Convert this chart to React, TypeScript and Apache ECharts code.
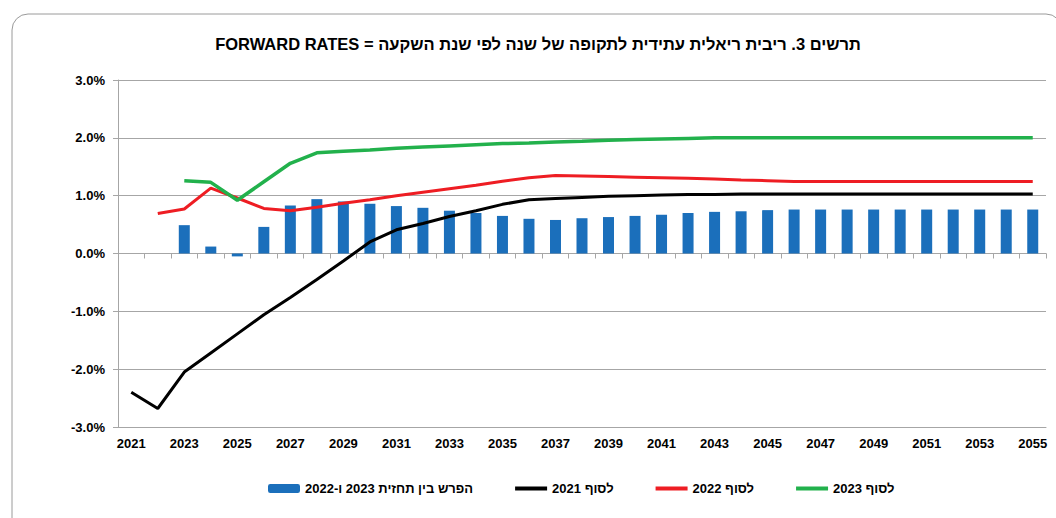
import React, { useEffect, useRef } from "react";
import * as echarts from "echarts";

const years: string[] = [];
for (let y = 2021; y <= 2055; y++) years.push(String(y));

const TITLE = "\u202AFORWARD RATES = תרשים 3. ריבית ריאלית עתידית לתקופה של שנה לפי שנת השקעה\u202C";
const NAME_DIFF = "הפרש בין תחזית 2023 ו-2022";
const NAME_2021 = "לסוף 2021";
const NAME_2022 = "לסוף 2022";
const NAME_2023 = "לסוף 2023";

const diff = [
  null, null, 0.49, 0.12, -0.05, 0.46, 0.83, 0.94, 0.9, 0.86, 0.82, 0.79, 0.74, 0.7, 0.65, 0.6, 0.58,
  0.61, 0.63, 0.65, 0.67, 0.7, 0.72, 0.73, 0.75, 0.76, 0.76, 0.76, 0.76, 0.76, 0.76, 0.76, 0.76, 0.76, 0.76,
];
const end2021 = [
  -2.4, -2.68, -2.05, -1.72, -1.39, -1.06, -0.76, -0.45, -0.13, 0.2, 0.41, 0.52, 0.64, 0.74, 0.85, 0.93, 0.95,
  0.97, 0.99, 1.0, 1.01, 1.02, 1.02, 1.03, 1.03, 1.03, 1.03, 1.03, 1.03, 1.03, 1.03, 1.03, 1.03, 1.03, 1.03,
];
const end2022 = [
  null, 0.69, 0.77, 1.13, 0.96, 0.78, 0.74, 0.8, 0.87, 0.93, 1.0, 1.06, 1.12, 1.18, 1.25, 1.31, 1.35,
  1.34, 1.33, 1.32, 1.31, 1.3, 1.29, 1.27, 1.26, 1.245, 1.245, 1.245, 1.245, 1.245, 1.245, 1.245, 1.245, 1.245, 1.245,
];
const end2023 = [
  null, null, 1.26, 1.23, 0.92, 1.24, 1.56, 1.74, 1.77, 1.79, 1.82, 1.84, 1.86, 1.88, 1.9, 1.91, 1.93,
  1.94, 1.96, 1.97, 1.98, 1.99, 2.0, 2.0, 2.0, 2.0, 2.0, 2.0, 2.0, 2.0, 2.0, 2.0, 2.0, 2.0, 2.0,
];

const FONT = "'Liberation Sans', Arial, sans-serif";
const GRAY = "#a6a6a6";
const BLUE = "#1b6fbb";
const BLACK = "#000000";
const RED = "#ee1d23";
const GREEN = "#22b14c";

const hiddenSymbol = { color: "rgba(0,0,0,0)", borderWidth: 0, borderColor: "rgba(0,0,0,0)" };

export default function App() {
  const ref = useRef<HTMLDivElement>(null);
  useEffect(() => {
    if (!ref.current) return;
    const chart = echarts.init(ref.current, null, { renderer: "svg" });
    chart.setOption({
      animation: false,
      backgroundColor: "#ffffff",
      textStyle: { fontFamily: FONT },
      graphic: [
        {
          type: "rect",
          shape: { x: 12, y: 14, width: 1050, height: 530, r: 16 },
          style: { fill: "none", stroke: "#9a9a9a", lineWidth: 1 },
          silent: true,
        },
        {
          type: "text",
          x: 538,
          y: 44,
          style: {
            text: TITLE,
            font: `bold 16.5px ${FONT}`,
            fill: "#000",
            textAlign: "center",
            textVerticalAlign: "middle",
          },
        },
      ],
      grid: { left: 118, right: 10, top: 80, bottom: 91, containLabel: false },
      legend: {
        left: 263,
        top: 477,
        itemWidth: 32,
        itemHeight: 9,
        itemGap: 40,
        textStyle: { fontFamily: FONT, fontWeight: "bold", fontSize: 13, color: "#000" },
        data: [
          { name: NAME_DIFF },
          { name: NAME_2021, itemStyle: hiddenSymbol, lineStyle: { color: BLACK, width: 4 } },
          { name: NAME_2022, itemStyle: hiddenSymbol, lineStyle: { color: RED, width: 4 } },
          { name: NAME_2023, itemStyle: hiddenSymbol, lineStyle: { color: GREEN, width: 4 } },
        ],
      },
      xAxis: [
        {
          type: "category",
          data: years,
          boundaryGap: true,
          axisLine: { show: true, onZero: false, lineStyle: { color: GRAY } },
          axisTick: { show: false },
          axisLabel: {
            interval: 1,
            fontFamily: FONT,
            fontWeight: "bold",
            fontSize: 13,
            color: "#000",
            margin: 10,
          },
        },
        {
          type: "category",
          data: years,
          boundaryGap: true,
          position: "bottom",
          axisLine: { show: true, onZero: true, lineStyle: { color: GRAY } },
          axisTick: { show: true, interval: 0, length: 5, lineStyle: { color: GRAY } },
          axisLabel: { show: false },
          splitLine: { show: false },
        },
      ],
      yAxis: {
        type: "value",
        min: -3,
        max: 3,
        interval: 1,
        axisLine: { show: true, lineStyle: { color: GRAY } },
        axisTick: { show: true, length: 5, lineStyle: { color: GRAY } },
        splitLine: { show: true, lineStyle: { color: GRAY, width: 1 } },
        axisLabel: {
          formatter: (v: number) => v.toFixed(1) + "%",
          fontFamily: FONT,
          fontWeight: "bold",
          fontSize: 13,
          color: "#000",
          margin: 13,
        },
      },
      series: [
        {
          name: NAME_DIFF,
          type: "bar",
          data: diff,
          barWidth: 11,
          itemStyle: { color: BLUE },
          z: 2,
        },
        {
          name: NAME_2021,
          type: "line",
          data: end2021,
          symbol: "none",
          lineStyle: { color: BLACK, width: 3 },
          itemStyle: { color: BLACK },
          z: 4,
        },
        {
          name: NAME_2022,
          type: "line",
          data: end2022,
          symbol: "none",
          lineStyle: { color: RED, width: 3 },
          itemStyle: { color: RED },
          z: 4,
        },
        {
          name: NAME_2023,
          type: "line",
          data: end2023,
          symbol: "none",
          lineStyle: { color: GREEN, width: 3.5 },
          itemStyle: { color: GREEN },
          z: 4,
        },
      ],
    });
    return () => chart.dispose();
  }, []);
  return (
    <div
      ref={ref}
      style={{ position: "fixed", left: 0, top: 0, width: 1056, height: 518, background: "#fff" }}
    />
  );
}
